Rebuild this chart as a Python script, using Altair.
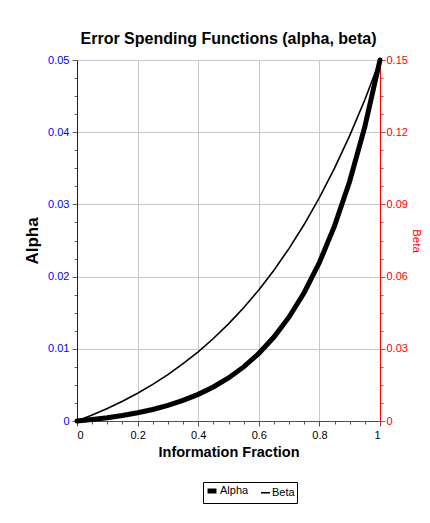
import altair as alt
import pandas as pd

# Information fraction grid
t = [0.0, 0.05, 0.1, 0.15, 0.2, 0.25, 0.3, 0.35, 0.4, 0.45, 0.5,
     0.55, 0.6, 0.65, 0.7, 0.75, 0.8, 0.85, 0.9, 0.95, 1.0]
# Alpha spending (left axis)
alpha = [0.0, 0.00021, 0.00046, 0.00077, 0.00114, 0.0016, 0.00216, 0.00285,
         0.00369, 0.00471, 0.00596, 0.00749, 0.00935, 0.01163, 0.01441,
         0.0178, 0.02195, 0.02702, 0.03321, 0.04077, 0.05]
# Beta spending (right axis)
beta = [0.0, 0.00247, 0.0052, 0.00821, 0.01155, 0.01523, 0.0193, 0.0238,
        0.02877, 0.03427, 0.04034, 0.04705, 0.05447, 0.06267, 0.07173,
        0.08174, 0.09281, 0.10504, 0.11856, 0.13349, 0.15]
series_names = ["Alpha", "Beta"]

df_a = pd.DataFrame({"t": t, "v": alpha, "series": series_names[0]})
df_b = pd.DataFrame({"t": t, "v": beta, "series": series_names[1]})

FONT = "Liberation Sans"

x_vals = [round(i * 0.05, 4) for i in range(21)]
ya_vals = [round(i * 0.0025, 5) for i in range(21)]
yb_vals = [round(i * 0.0075, 5) for i in range(21)]

x_major = "abs(datum.value*5 - round(datum.value*5)) < 0.001"
ya_major = "abs(datum.value*100 - round(datum.value*100)) < 0.001"
yb_major = "abs(datum.value/0.03 - round(datum.value/0.03)) < 0.001"


def cond(test, a, b):
    return {"condition": {"test": test, "value": a}, "value": b}


x_axis = alt.Axis(
    values=x_vals,
    labelExpr="(" + x_major + ") ? format(datum.value, '~g') : ''",
    tickSize=cond(x_major, 5, 3),
    gridOpacity=cond(x_major, 1, 0),
    grid=True, gridColor="#c8c8c8", gridWidth=1,
    domainColor="#505050", tickColor="#505050",
    labelColor="#000000", labelFont=FONT, labelFontSize=11, labelPadding=3,
    title="Information Fraction", titleFont=FONT, titleFontSize=14.5,
    titleFontWeight="bold", titleColor="#000000", titlePadding=5,
)

x_enc = alt.X("t:Q", scale=alt.Scale(domain=[0, 1], nice=False, zero=False), axis=x_axis)

sw_enc = alt.StrokeWidth(
    "series:N",
    scale=alt.Scale(domain=series_names, range=[5, 1.6]),
    legend=alt.Legend(
        title=None, orient="none", legendX=126, legendY=422,
        direction="horizontal", symbolType="stroke", symbolStrokeColor="black",
        symbolSize=80, labelFont=FONT, labelFontSize=11, labelColor="#000000",
        strokeColor="black", fillColor="white", padding=2, columnPadding=8,
        labelOffset=1, cornerRadius=0,
    ),
)

alpha_line = alt.Chart(df_a).mark_line(color="black", strokeCap="round").encode(
    x=x_enc,
    y=alt.Y("v:Q", scale=alt.Scale(domain=[0, 0.05], nice=False),
            axis=alt.Axis(
                orient="left", values=ya_vals,
                labelExpr="(" + ya_major + ") ? format(datum.value, '~g') : ''",
                tickSize=cond(ya_major, 5, 3),
                gridOpacity=cond(ya_major, 1, 0),
                grid=True, gridColor="#c8c8c8",
                domainColor="#0000ff", tickColor="#606060",
                labelColor="#0000ff", labelFont=FONT, labelFontSize=11,
                labelPadding=3,
                title="Alpha", titleFont=FONT, titleFontSize=17,
                titleFontWeight="bold", titleColor="#000000", titlePadding=6,
            )),
    strokeWidth=sw_enc,
)

beta_line = alt.Chart(df_b).mark_line(color="black").encode(
    x=x_enc,
    y=alt.Y("v:Q", scale=alt.Scale(domain=[0, 0.15], nice=False),
            axis=alt.Axis(
                orient="right", values=yb_vals,
                labelExpr="(" + yb_major + ") ? format(datum.value, '~g') : ''",
                tickSize=cond(yb_major, 5, 3),
                grid=False,
                domainColor="#ff0000", tickColor="#d04848",
                labelColor="#ff0000", labelFont=FONT, labelFontSize=11,
                labelPadding=1,
                title="Beta", titleFont=FONT, titleFontSize=11.5,
                titleFontWeight="normal", titleColor="#ff0000",
                titleAngle=90, titlePadding=3,
            )),
    strokeWidth=sw_enc,
)

chart = alt.layer(alpha_line, beta_line).resolve_scale(y="independent").properties(
    width=303, height=361,
    padding={"left": 69, "top": 52, "right": 42, "bottom": 86},
    autosize=alt.AutoSizeParams(type="none"),
    title=alt.TitleParams("Error Spending Functions (alpha, beta)", font=FONT,
                          fontSize=16, fontWeight="bold", color="#000000",
                          offset=3, anchor="middle"),
    background="white",
).configure_view(stroke=None)

chart.save("out.html", embed_options={"renderer": "svg", "actions": False})
